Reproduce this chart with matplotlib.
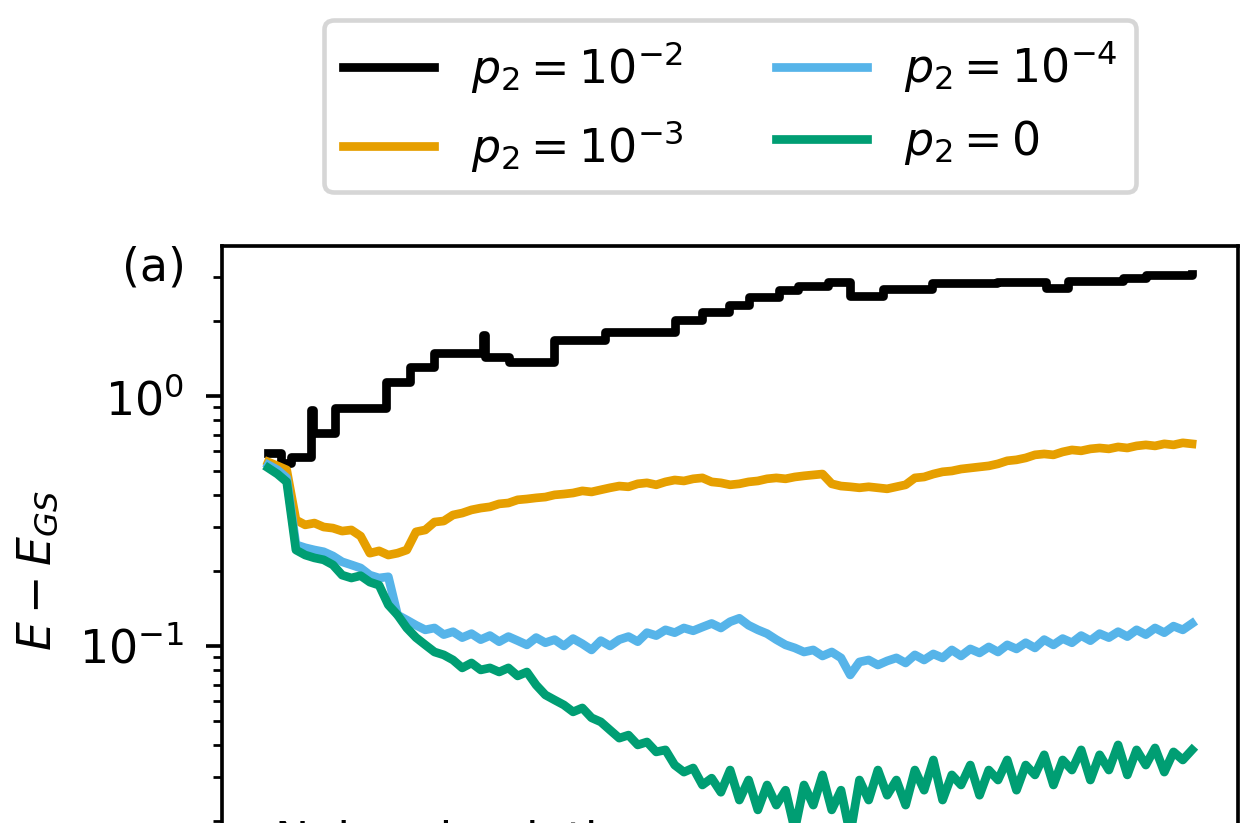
import numpy as np
import matplotlib
matplotlib.use("Agg")
import matplotlib.pyplot as plt

# iteration axis (x ticks fall outside the cropped picture)
steps = np.arange(0, 1001, 10)

# p2 = 1e-2 : step-like curve, given at the change points
black_x = [0, 14, 25, 46, 49, 72, 127, 153, 179, 232, 235, 261, 309, 365, 440,
           470, 499, 520, 553, 574, 606, 630, 665, 719, 789, 842, 866, 925, 950, 1000]
black_y = [0.592, 0.540, 0.570, 0.879, 0.711, 0.895, 1.14, 1.31, 1.49, 1.75, 1.43,
           1.37, 1.67, 1.80, 2.01, 2.17, 2.31, 2.49, 2.65, 2.75, 2.86, 2.51, 2.68,
           2.83, 2.86, 2.70, 2.88, 2.96, 3.05, 3.08]

# p2 = 1e-3
orange_y = [0.544, 0.525, 0.506, 0.319, 0.305, 0.310, 0.299, 0.296, 0.288, 0.291,
            0.275, 0.235, 0.240, 0.231, 0.235, 0.242, 0.286, 0.291, 0.313, 0.316,
            0.334, 0.340, 0.350, 0.356, 0.360, 0.370, 0.373, 0.384, 0.387, 0.391,
            0.394, 0.402, 0.405, 0.409, 0.417, 0.413, 0.421, 0.429, 0.436, 0.433,
            0.445, 0.449, 0.441, 0.453, 0.461, 0.457, 0.466, 0.470, 0.453, 0.449,
            0.441, 0.445, 0.453, 0.457, 0.466, 0.470, 0.466, 0.474, 0.479, 0.483,
            0.487, 0.445, 0.436, 0.433, 0.429, 0.433, 0.429, 0.425, 0.433, 0.441,
            0.470, 0.474, 0.487, 0.497, 0.501, 0.510, 0.515, 0.520, 0.525, 0.535,
            0.550, 0.555, 0.565, 0.581, 0.586, 0.581, 0.597, 0.608, 0.603, 0.614,
            0.619, 0.614, 0.625, 0.619, 0.631, 0.637, 0.631, 0.643, 0.637, 0.649,
            0.643]

# p2 = 1e-4
blue_y = [0.530, 0.506, 0.470, 0.254, 0.247, 0.242, 0.238, 0.229, 0.217, 0.211,
          0.205, 0.192, 0.187, 0.189, 0.133, 0.127, 0.121, 0.116, 0.118, 0.111,
          0.114, 0.108, 0.112, 0.106, 0.110, 0.104, 0.109, 0.105, 0.101, 0.108,
          0.103, 0.106, 0.100, 0.107, 0.102, 0.0964, 0.105, 0.100, 0.106, 0.109,
          0.104, 0.113, 0.110, 0.116, 0.113, 0.118, 0.115, 0.119, 0.123, 0.118,
          0.125, 0.129, 0.121, 0.116, 0.112, 0.106, 0.101, 0.0982, 0.0946, 0.0964,
          0.0912, 0.0946, 0.0896, 0.0766, 0.0863, 0.0879, 0.0839, 0.0871, 0.0896, 0.0855,
          0.0921, 0.0879, 0.0929, 0.0896, 0.0964, 0.0912, 0.0973, 0.0938, 0.0991, 0.0946,
          0.101, 0.0973, 0.103, 0.0982, 0.106, 0.101, 0.107, 0.103, 0.110, 0.105,
          0.112, 0.108, 0.114, 0.109, 0.116, 0.111, 0.118, 0.113, 0.120, 0.116,
          0.123]

# p2 = 0
green_y = [0.515, 0.487, 0.453, 0.242, 0.231, 0.225, 0.221, 0.211, 0.192, 0.187,
           0.191, 0.180, 0.175, 0.146, 0.133, 0.118, 0.108, 0.101, 0.0946, 0.0921,
           0.0879, 0.0817, 0.0855, 0.0802, 0.0817, 0.0787, 0.0817, 0.0759, 0.0787, 0.0698,
           0.0637, 0.0608, 0.0581, 0.0545, 0.0565, 0.0516, 0.0497, 0.0461, 0.0428, 0.0440,
           0.0402, 0.0413, 0.0377, 0.0384, 0.0334, 0.0313, 0.0325, 0.0278, 0.0296, 0.0260,
           0.0319, 0.0242, 0.0291, 0.0221, 0.0278, 0.0231, 0.0265, 0.0184, 0.0278, 0.0231,
           0.0305, 0.0221, 0.0265, 0.0176, 0.0291, 0.0242, 0.0319, 0.0253, 0.0291, 0.0231,
           0.0319, 0.0265, 0.0350, 0.0242, 0.0305, 0.0278, 0.0334, 0.0253, 0.0319, 0.0291,
           0.0350, 0.0265, 0.0334, 0.0305, 0.0367, 0.0278, 0.0350, 0.0319, 0.0384, 0.0291,
           0.0367, 0.0319, 0.0402, 0.0305, 0.0384, 0.0334, 0.0391, 0.0313, 0.0377, 0.0350,
           0.0384]

labels = [r"$p_2=10^{-2}$", r"$p_2=10^{-3}$", r"$p_2=10^{-4}$", r"$p_2=0$"]
colors = ["#000000", "#E69F00", "#56B4E9", "#009E73"]

dpi = 330
fig = plt.figure(figsize=(1240.2 / dpi, 823.2 / dpi), dpi=dpi)
# the picture is a crop: the axes run past the bottom edge
ax = fig.add_axes([222 / 1240, 1 - 896 / 823, 1016 / 1240, 650 / 823])

lw = 1.9
ax.plot(black_x, black_y, drawstyle="steps-post", color=colors[0], lw=lw, label=labels[0])
ax.plot(steps, orange_y, color=colors[1], lw=lw, label=labels[1])
ax.plot(steps, blue_y, color=colors[2], lw=lw, label=labels[2])
ax.plot(steps, green_y, color=colors[3], lw=lw, label=labels[3])

ax.set_yscale("log")
ax.set_ylim(0.01, 10 ** 0.6)
ax.set_ylabel(r"$E - E_{GS}$", fontsize=10)
ax.tick_params(axis="y", which="major", pad=4.8, labelsize=10)

ax.text(-0.036, 0.966, "(a)", transform=ax.transAxes, ha="right", va="center",
        fontsize=10)
ax.text(0.052, 0.064, "Noisy simulation", transform=ax.transAxes, ha="left",
        va="baseline", fontsize=10)

ax.legend(loc="lower center", bbox_to_anchor=(0.5, 1.083), borderaxespad=0,
          ncol=2, fontsize=10, frameon=True)

fig.savefig("out.png", dpi=dpi)
